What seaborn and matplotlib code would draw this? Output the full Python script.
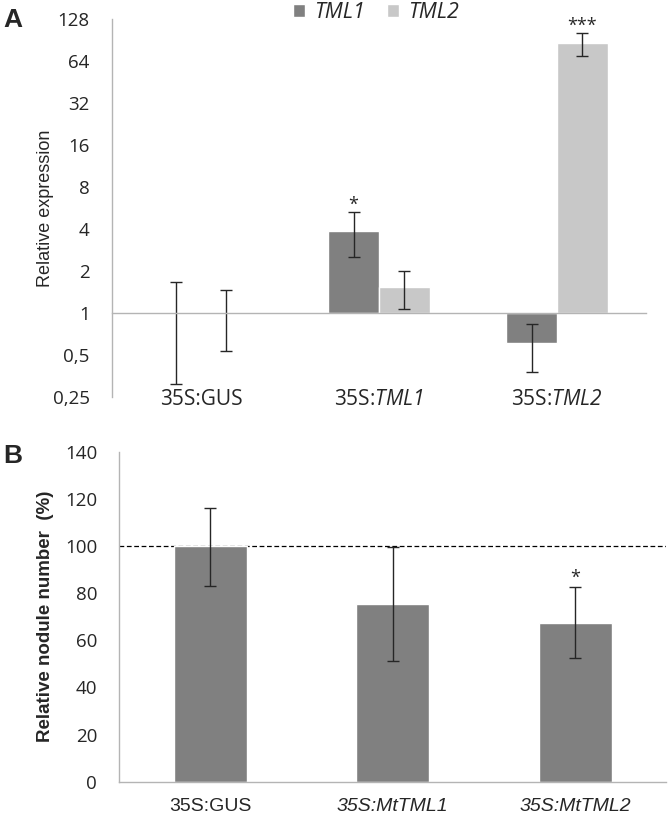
import numpy as np
import pandas as pd
import matplotlib
matplotlib.use("Agg")
import matplotlib.pyplot as plt
from matplotlib.ticker import NullLocator
import seaborn as sns

# Panel A - relative expression (log2 axis, bars start from 1)
genotypes_a = ["35S:GUS", "35S:TML1", "35S:TML2"]
# math part is drawn with the italic face (see mathtext settings below)
genotype_labels_a = ["35S:GUS", "35S:$\\mathrm{TML1}$", "35S:$\\mathrm{TML2}$"]
genes = ["TML1", "TML2"]
tml1_expr = [1.0, 3.86, 0.61]
tml1_low = [0.31, 2.50, 0.38]
tml1_high = [1.68, 5.26, 0.84]
tml2_expr = [1.0, 1.53, 86.0]
tml2_low = [0.53, 1.07, 69.4]
tml2_high = [1.46, 2.01, 101.5]
tml1_sig = ["", "*", ""]
tml2_sig = ["", "", "***"]
yticks_a = [0.25, 0.5, 1, 2, 4, 8, 16, 32, 64, 128]
yticklabels_a = ["0,25", "0,5", "1", "2", "4", "8", "16", "32", "64", "128"]

# Panel B - relative nodule number
constructs_b = ["35S:GUS", "35S:MtTML1", "35S:MtTML2"]
nodules = [100, 75.4, 67.5]
nodules_low = [83.2, 51.3, 52.4]
nodules_high = [116.2, 99.7, 82.7]
nodules_sig = ["", "", "*"]
yticks_b = [0, 20, 40, 60, 80, 100, 120, 140]

dark = "#808080"
light = "#c8c8c8"
axis_grey = "#b4b4b4"
err_col = "#262626"

sns.set_style("white")
plt.rcParams["font.family"] = ["Open Sans", "DejaVu Sans"]
plt.rcParams["mathtext.fontset"] = "custom"
plt.rcParams["mathtext.rm"] = "Open Sans:italic"
plt.rcParams["mathtext.it"] = "Open Sans:italic"

fig = plt.figure(figsize=(6.7, 8.16), dpi=100)
ax_a = fig.add_axes([112 / 670, 1 - 397 / 816, 534 / 670, 378 / 816])
ax_b = fig.add_axes([119.3 / 670, 1 - 781.7 / 816, 547 / 670, 330 / 816])

# ---- Panel A ----
df_a = pd.DataFrame({
    "genotype": genotypes_a * 2,
    "gene": [genes[0]] * 3 + [genes[1]] * 3,
    "expr": tml1_expr + tml2_expr,
})
ax_a.set_yscale("log", base=2)
sns.barplot(data=df_a, x="genotype", y="expr", hue="gene", palette=[dark, light],
            saturation=1, width=0.573, errorbar=None, ax=ax_a)

for cont, vals, lo, hi, sig in zip(ax_a.containers, [tml1_expr, tml2_expr],
                                   [tml1_low, tml2_low], [tml1_high, tml2_high],
                                   [tml1_sig, tml2_sig]):
    xs = []
    for bar, v in zip(cont, vals):
        # bars grow from 1 (axis crosses at 1)
        bar.set_y(1)
        bar.set_height(v - 1)
        xs.append(bar.get_x() + bar.get_width() / 2)
    ax_a.errorbar(xs, vals, yerr=[np.subtract(vals, lo), np.subtract(hi, vals)],
                  fmt="none", ecolor=err_col, elinewidth=1, capsize=4, capthick=1)
    for x, h, s in zip(xs, hi, sig):
        if s:
            ax_a.annotate(s, (x, h), xytext=(0, -1), textcoords="offset points",
                          ha="center", va="bottom", fontsize=13)

ax_a.set_ylim(0.25, 128)
ax_a.set_yticks(yticks_a, yticklabels_a)
ax_a.yaxis.set_minor_locator(NullLocator())
ax_a.set_xlim(-0.5, 2.5)
ax_a.spines["bottom"].set_position(("data", 1))
ax_a.set_xticks([-0.5, 0.5, 1.5, 2.5], [])
ax_a.tick_params(axis="x", direction="out", length=5, color=axis_grey, width=1)
ax_a.tick_params(axis="y", direction="out", length=5, color=axis_grey, width=1,
                 labelsize=13.5, pad=11)
for side in ["top", "right"]:
    ax_a.spines[side].set_visible(False)
for side in ["left", "bottom"]:
    ax_a.spines[side].set_color(axis_grey)
    ax_a.spines[side].set_linewidth(1)
ax_a.set_xlabel("")
ax_a.set_ylabel("Relative expression", family="Liberation Sans", fontsize=13)
ax_a.yaxis.set_label_coords(-0.108, 0.5)

sec = ax_a.secondary_xaxis(0)
sec.set_xticks([0, 1, 2], genotype_labels_a)
sec.tick_params(length=0, pad=-6, labelsize=15)
sec.spines["bottom"].set_visible(False)

sns.move_legend(ax_a, "center", bbox_to_anchor=(376 / 670, 1 - 13 / 816),
                bbox_transform=fig.transFigure, ncol=2, frameon=False, title=None,
                fontsize=15.5, handlelength=0.55, handleheight=0.55,
                handletextpad=0.45, columnspacing=1.0)
for t in ax_a.get_legend().get_texts():
    t.set_style("italic")

# ---- Panel B ----
sns.barplot(x=constructs_b, y=nodules, color=dark, saturation=1, width=0.4,
            errorbar=None, ax=ax_b)
xs_b = [bar.get_x() + bar.get_width() / 2 for bar in ax_b.patches]
ax_b.errorbar(xs_b, nodules,
              yerr=[np.subtract(nodules, nodules_low), np.subtract(nodules_high, nodules)],
              fmt="none", ecolor=err_col, elinewidth=1, capsize=4, capthick=1)
for x, h, s in zip(xs_b, nodules_high, nodules_sig):
    if s:
        ax_b.annotate(s, (x, h), xytext=(0, 0), textcoords="offset points",
                      ha="center", va="bottom", fontsize=13)
ax_b.axhline(100, color="black", lw=0.9, ls=(0, (3.8, 2.1)), zorder=0.5)

ax_b.set_ylim(0, 140)
ax_b.set_xlim(-0.5, 2.5)
ax_b.set_yticks(yticks_b)
ax_b.set_xticks([0, 1, 2], constructs_b)
ax_b.set_xticks([-0.5, 0.5, 1.5, 2.5], minor=True)
ax_b.tick_params(axis="x", which="major", length=0, pad=12, labelsize=14)
ax_b.tick_params(axis="x", which="minor", direction="out", length=7, color=axis_grey)
ax_b.tick_params(axis="y", direction="out", length=7, color=axis_grey,
                 labelsize=13.5, pad=9)
for i, lab in enumerate(ax_b.get_xticklabels()):
    lab.set_family(["Liberation Sans Narrow", "Liberation Sans"])
    if i > 0:
        lab.set_style("italic")
for side in ["top", "right"]:
    ax_b.spines[side].set_visible(False)
for side in ["left", "bottom"]:
    ax_b.spines[side].set_color(axis_grey)
    ax_b.spines[side].set_linewidth(1)
ax_b.set_ylabel("Relative nodule number  (%)", family="Liberation Sans",
                fontweight="bold", fontsize=13.5)
ax_b.yaxis.set_label_coords(-0.119, 0.5)

fig.text(3 / 670, 1 - 27 / 816, "A", family="Liberation Sans", fontweight="bold", fontsize=19)
fig.text(3 / 670, 1 - 463 / 816, "B", family="Liberation Sans", fontweight="bold", fontsize=19)

fig.savefig("out.png", dpi=100)
